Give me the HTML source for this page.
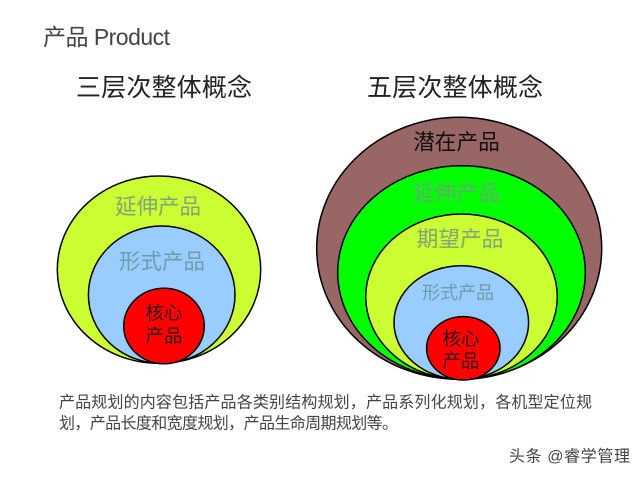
<!DOCTYPE html>
<html lang="zh">
<head>
<meta charset="utf-8">
<style>
html,body{margin:0;padding:0;background:#fff;width:640px;height:479px;overflow:hidden}
svg{display:block}
text{font-family:"Liberation Sans","Noto Sans CJK SC",sans-serif;dominant-baseline:central}
.c{text-anchor:middle}
ellipse{stroke:#000;stroke-width:1.5}
</style>
</head>
<body>
<svg width="640" height="479" viewBox="0 0 640 479" xmlns="http://www.w3.org/2000/svg">
<text x="43" y="37" font-size="23" fill="#444" textLength="127" lengthAdjust="spacing">产品 Product</text>
<text x="76" y="88" font-size="25" fill="#222" textLength="176" lengthAdjust="spacing">三层次整体概念</text>
<text x="367" y="88" font-size="25" fill="#222" textLength="176" lengthAdjust="spacing">五层次整体概念</text>

<ellipse cx="159" cy="269.7" rx="101.7" ry="93.7" fill="#ccff33"/>
<ellipse cx="161.7" cy="294.7" rx="73.3" ry="68.7" fill="#99ccff"/>
<ellipse cx="164" cy="326" rx="40.3" ry="37.8" fill="#ff0000"/>
<text class="c" x="158" y="207" font-size="21.5" fill="#7ea67a">延伸产品</text>
<text class="c" x="162" y="262" font-size="21.5" fill="#6f9cab">形式产品</text>
<text class="c" x="164" y="313" font-size="18.5" fill="#300">核心</text>
<text class="c" x="164" y="336" font-size="18.5" fill="#300">产品</text>

<ellipse cx="459.2" cy="248.3" rx="142.5" ry="131" fill="#996666"/>
<ellipse cx="461.5" cy="272.5" rx="123.8" ry="106.8" fill="#00ff00"/>
<ellipse cx="461.5" cy="296.7" rx="95.8" ry="82.7" fill="#ccff33"/>
<ellipse cx="461.3" cy="322.5" rx="67.3" ry="56.8" fill="#99ccff"/>
<ellipse cx="463.3" cy="348.3" rx="36.7" ry="31.7" fill="#ff0000"/>
<text class="c" x="456.5" y="142" font-size="21.7" fill="#111">潜在产品</text>
<text class="c" x="456.5" y="193" font-size="21.7" fill="#5fae6a">延伸产品</text>
<text class="c" x="460" y="239" font-size="21.7" fill="#7ea67a">期望产品</text>
<text class="c" x="458" y="293" font-size="18" fill="#6f9cab">形式产品</text>
<text class="c" x="461" y="339" font-size="18.5" fill="#300">核心</text>
<text class="c" x="461" y="361" font-size="18.5" fill="#300">产品</text>

<text x="59" y="403" font-size="16" fill="#444" textLength="533" lengthAdjust="spacing">产品规划的内容包括产品各类别结构规划，产品系列化规划，各机型定位规</text>
<text x="59" y="424" font-size="16" fill="#444" textLength="339" lengthAdjust="spacing">划，产品长度和宽度规划，产品生命周期规划等。</text>
<text x="509" y="457" font-size="16" fill="#444" textLength="121" lengthAdjust="spacing">头条 @睿学管理</text>
</svg>
</body>
</html>
